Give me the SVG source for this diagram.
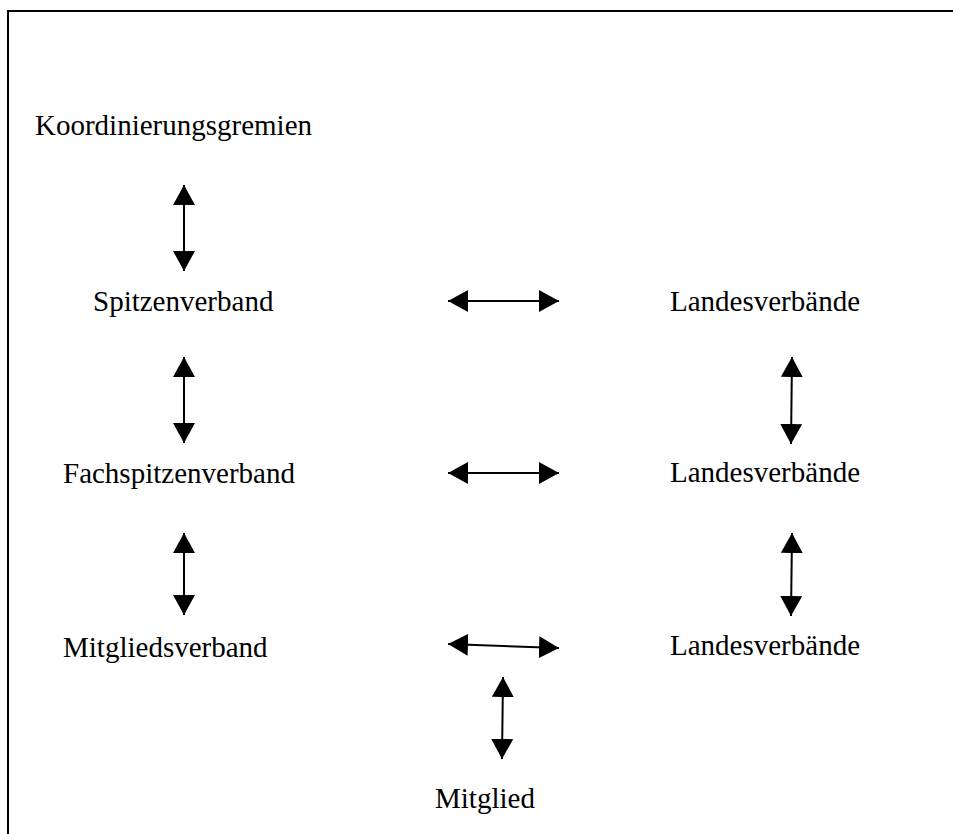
<svg xmlns="http://www.w3.org/2000/svg" width="953" height="834" viewBox="0 0 953 834">
<style>
text{font-family:"Liberation Serif","Times New Roman",serif;font-size:29px;fill:#000}
.c line{stroke:#000;stroke-width:2;marker-start:url(#ah);marker-end:url(#ah)}
</style>
<defs>
<marker id="ah" markerUnits="userSpaceOnUse" markerWidth="21" markerHeight="22" refX="20" refY="11" orient="auto-start-reverse" viewBox="0 0 21 22">
<path d="M0,0 L20,11 L0,22 z" fill="#000"/>
</marker>
</defs>
<rect width="953" height="834" fill="#fff"/>
<path d="M8,834 V11 H953" fill="none" stroke="#000" stroke-width="2"/>
<g id="koordinierungsgremien"><text x="35" y="135">Koordinierungsgremien</text></g>
<g id="spitzenverband"><text x="93" y="311">Spitzenverband</text></g>
<g id="fachspitzenverband"><text x="63" y="483">Fachspitzenverband</text></g>
<g id="mitgliedsverband"><text x="63" y="657">Mitgliedsverband</text></g>
<g id="landesverbaende1"><text x="670" y="311">Landesverbände</text></g>
<g id="landesverbaende2"><text x="670" y="482">Landesverbände</text></g>
<g id="landesverbaende3"><text x="670" y="655">Landesverbände</text></g>
<g id="mitglied"><text x="435" y="808">Mitglied</text></g>
<g id="connectors" class="c">
<line x1="184" y1="185" x2="184" y2="271"/>
<line x1="184" y1="357" x2="184" y2="443"/>
<line x1="184" y1="533" x2="184" y2="615"/>
<line x1="448" y1="301" x2="559" y2="301"/>
<line x1="448" y1="473" x2="559" y2="473"/>
<line x1="448" y1="644" x2="559" y2="648"/>
<line x1="792" y1="357" x2="791" y2="444"/>
<line x1="792" y1="533" x2="791" y2="616"/>
<line x1="503" y1="677" x2="502" y2="759"/>
</g>
</svg>
